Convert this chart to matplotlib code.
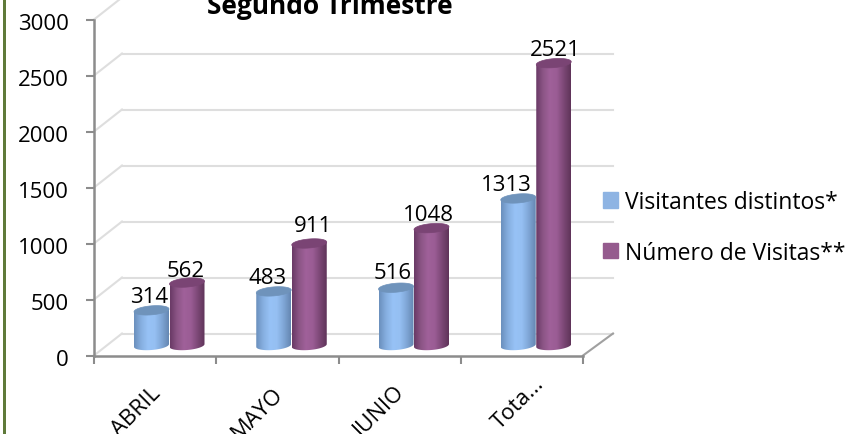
import numpy as np
import matplotlib
matplotlib.use('Agg')
import matplotlib.pyplot as plt
from matplotlib.colors import LinearSegmentedColormap
from matplotlib.patches import Patch, PathPatch, Rectangle
from matplotlib.path import Path
from matplotlib.transforms import Affine2D, ScaledTranslation

plt.rcParams['font.family'] = ['Open Sans', 'DejaVu Sans']

meses = ['ABRIL', 'MAYO', 'JUNIO', 'Tota...']
visitantes = [314, 483, 516, 1313]
visitas = [562, 911, 1048, 2521]
y_ticks = [0, 500, 1000, 1500, 2000, 2500, 3000]
nombres = ['Visitantes distintos*', 'Número de Visitas**']

# desplazamiento de las etiquetas respecto a la cima de cada cilindro (px)
off_vis = [(-2.5, 24), (-6, 24), (-3, 25), (-12, 24)]
off_num = [(-1, 22.5), (4, 28), (-3.5, 24), (2, 24)]
# corrimiento de las etiquetas del eje x (px)
off_mes = [(-5, -2), (-5, -2), (-5, -2), (12, 8)]

W, H = 849, 435
fig = plt.figure(figsize=(W / 100, H / 100), dpi=100)
ax = fig.add_axes([94 / W, (H - 356.5) / H, 489 / W, 336 / H])
ax.set_xlim(0, 4)
ax.set_ylim(0, 3000)

px = 4 / 489      # un pixel en unidades de categoria
py = 3000 / 336   # un pixel en unidades de valor

# pared del fondo, corrida en pixeles
back = ax.transData + Affine2D().translate(28, 22)
gris = '#dedede'
for v in y_ticks:
    ax.plot([0, 4 + 2 * px], [v, v], color=gris, lw=1.5, transform=back, clip_on=False, zorder=1)
    ax.plot([0, 28 * px], [v, v + 22 * py], color=gris, lw=1.5, clip_on=False, zorder=1)
ax.plot([4, 4 + 30 * px], [0, 22 * py], color='#a0a0a0', lw=1.5, clip_on=False, zorder=2)


def cilindro(cx, valor, cmap, tapa):
    rx = 17.5 * px
    ry = 4.5 * py
    base = 10 * py
    skew = 0.08 * py / px
    t = np.linspace(0, np.pi, 40)
    xs = rx * np.cos(t)
    arriba = np.column_stack([cx + xs, base + valor + skew * xs])
    abajo = np.column_stack([cx - xs, base - skew * xs - ry * np.sin(t)])
    pts = np.vstack([arriba, abajo, arriba[:1]])
    clip = PathPatch(Path(pts), transform=ax.transData, fc='none', ec='none')
    ax.add_patch(clip)
    grad = np.linspace(0, 1, 64).reshape(1, -1)
    im = ax.imshow(grad, cmap=cmap, aspect='auto', zorder=3,
                   extent=[cx - rx, cx + rx, 0, base + valor + 10 * py], clip_on=True)
    im.set_clip_path(clip)
    t = np.linspace(0, 2 * np.pi, 60)
    xs = rx * np.cos(t)
    tope = np.column_stack([cx + xs, base + valor + skew * xs + ry * np.sin(t)])
    ax.add_patch(PathPatch(Path(tope), fc=tapa, ec=tapa, lw=0.5, zorder=3.1, clip_on=False))


azul = LinearSegmentedColormap.from_list('azul', ['#6b90bd', '#86afe0', '#97c2f6', '#95bff2', '#7fa6d6', '#6587b2'])
morado = LinearSegmentedColormap.from_list('morado', ['#6a3a66', '#8c5586', '#a0619a', '#9a5c94', '#7c4876', '#5f3459'])

for i in range(len(meses)):
    c1 = i + 57.5 * px
    c2 = i + 93 * px
    cilindro(c1, visitantes[i], azul, '#6f93bb')
    cilindro(c2, visitas[i], morado, '#7a4474')
    ax.annotate(str(visitantes[i]), (c1, visitantes[i]), xytext=off_vis[i],
                textcoords='offset pixels', ha='center', va='center',
                fontsize=16, color='black', zorder=5, annotation_clip=False)
    ax.annotate(str(visitas[i]), (c2, visitas[i]), xytext=off_num[i],
                textcoords='offset pixels', ha='center', va='center',
                fontsize=16, color='black', zorder=5, annotation_clip=False)

ax.set_xlim(0, 4)
ax.set_ylim(0, 3000)

for s in ['top', 'right']:
    ax.spines[s].set_visible(False)
for s in ['left', 'bottom']:
    ax.spines[s].set_color('#8c8c8c')
    ax.spines[s].set_linewidth(1.8)
    ax.spines[s].set_zorder(2)

ax.set_yticks(y_ticks)
ax.set_yticklabels([str(v) for v in y_ticks], fontsize=16)
ax.set_xticks(range(5))
ax.set_xticklabels([])
ax.set_xticks(np.arange(len(meses)) + 0.5, minor=True)
ax.set_xticklabels(meses, minor=True, fontsize=16, rotation=45, ha='right',
                   rotation_mode='anchor')
ax.tick_params(axis='y', length=6, width=1.5, color='#8c8c8c', pad=12)
ax.tick_params(axis='x', which='major', length=6, width=1.5, color='#8c8c8c')
ax.tick_params(axis='x', which='minor', length=0, pad=18)

for lab, (dx, dy) in zip(ax.get_xticklabels(minor=True), off_mes):
    lab.set_transform(lab.get_transform() + ScaledTranslation(dx / 100, dy / 100, fig.dpi_scale_trans))
for lab in ax.get_yticklabels():
    lab.set_transform(lab.get_transform() + ScaledTranslation(0, -1.5 / 100, fig.dpi_scale_trans))

fig.text(330 / W, 1 - 14 / H, 'Segundo Trimestre', fontsize=19, fontweight='bold',
         ha='center', va='baseline')

handles = [Patch(color='#8eb4e3'), Patch(color='#955b8e')]
fig.legend(handles, nombres, loc='upper left', bbox_to_anchor=(603 / W, 1 - 191 / H),
           frameon=False, fontsize=16.5, handlelength=0.66, handleheight=0.66,
           handletextpad=0.31, labelspacing=1.17, borderpad=0, borderaxespad=0)

# borde verde a la izquierda
fig.add_artist(Rectangle((3 / W, 0), 2.5 / W, 1, transform=fig.transFigure,
                         fc='#5f7a3a', ec='none'))

fig.savefig('out.png', dpi=100)
